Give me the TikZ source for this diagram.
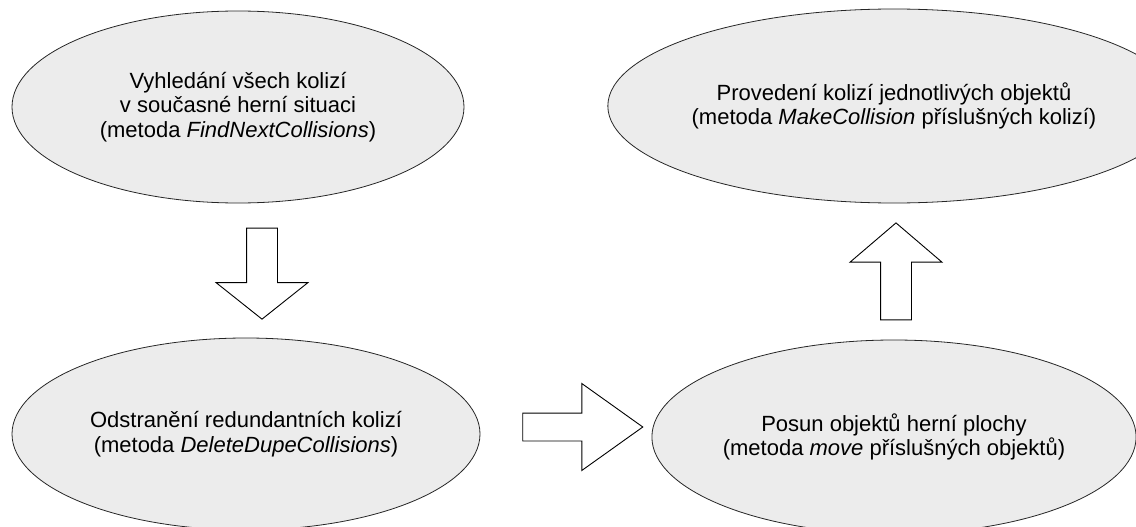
\documentclass[tikz,border=0pt]{standalone}
\usepackage{fontspec}
\setmainfont{Liberation Sans}
\usetikzlibrary{shapes.geometric,shapes.arrows}

\begin{document}
\begin{tikzpicture}[x=1pt,y=-1pt,inner sep=0pt]
\tikzset{every node/.style={font=\fontsize{22}{24.5}\selectfont,align=center}}
\tikzset{krok/.style={draw=black!85,fill=gray!15,ellipse,line width=0.8pt}}
\tikzset{sipka/.style={draw=black,fill=white,single arrow,line width=0.9pt,inner sep=15pt,
   single arrow head extend=30.5pt,single arrow head indent=0pt}}
\useasboundingbox (0,0) rectangle (1136,527);
\node[krok,minimum width=452pt,minimum height=192pt] (hledani) at (238,107)
	{Vyhledání všech kolizí\\v současné herní situaci\\(metoda \textit{FindNextCollisions})};
\node[krok,minimum width=468pt,minimum height=192pt] (odstraneni) at (246,434)
	{Odstranění redundantních kolizí\\(metoda \textit{DeleteDupeCollisions})};
\node[krok,minimum width=482pt,minimum height=194pt] (posun) at (894,437)
	{Posun objektů herní plochy\\(metoda \textit{move} příslušných objektů)};
\node[krok,minimum width=484pt,minimum height=194pt] (provedeni) at (894,106)
	{Provedení kolizí jednotlivých objektů\\(metoda \textit{MakeCollision} příslušných kolizí)};
% sipky mezi kroky
\node[sipka,shape border rotate=270,minimum height=91pt,single arrow tip angle=103] (s1) at (262,267.5) {};
\node[sipka,inner sep=13.5pt,single arrow head extend=29.5pt,minimum height=120pt,single arrow tip angle=71] (s2) at (573,427) {};
\node[sipka,shape border rotate=90,minimum height=97pt,single arrow tip angle=99] (s3) at (896,278) {};
\end{tikzpicture}
\end{document}
